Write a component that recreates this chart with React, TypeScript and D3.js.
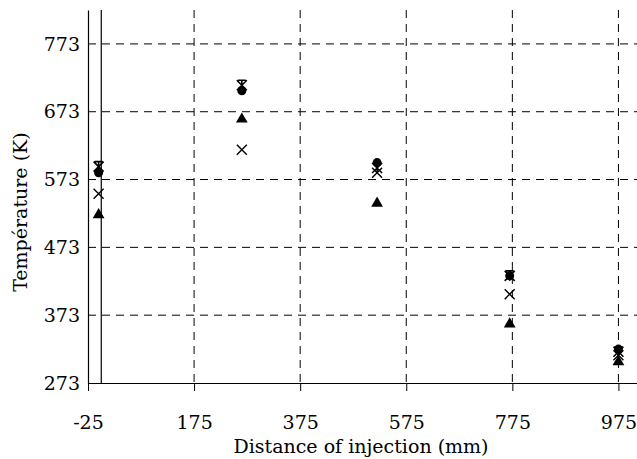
import { useEffect, useRef } from "react";
import * as d3 from "d3";

const distances = [-5, 265, 520, 770, 975];
const starSeries = [592, 712, 590, 431, 319];
const circleSeries = [583, 704, 598, 431, 323];
const crossSeries = [552, 617, 583, 404, 314];
const triangleSeries = [521, 662, 538, 360, 304];
const xTicks = [-25, 175, 375, 575, 775, 975];
const yTicks = [273, 373, 473, 573, 673, 773];

function App() {
  const ref = useRef<SVGSVGElement>(null);

  const width = 637;
  const height = 459;
  const margin = { top: 10, right: 0, bottom: 76, left: 88 };

  useEffect(() => {
    const svg = d3.select(ref.current);
    svg.selectAll("*").remove();

    const x = d3.scaleLinear().domain([-25, 1010]).range([margin.left, width - margin.right]);
    const y = d3.scaleLinear().domain([273, 823]).range([height - margin.bottom, margin.top]);
    const font = "'DejaVu Serif', 'Liberation Serif', serif";

    // dashed grid
    svg.append("g")
      .selectAll("line")
      .data(yTicks.slice(1))
      .enter()
      .append("line")
      .attr("x1", x(-25))
      .attr("x2", width)
      .attr("y1", d => y(d))
      .attr("y2", d => y(d))
      .attr("stroke", "#000")
      .attr("stroke-dasharray", "8,6");

    svg.append("g")
      .selectAll("line")
      .data(xTicks.slice(1))
      .enter()
      .append("line")
      .attr("x1", d => x(d))
      .attr("x2", d => x(d))
      .attr("y1", y(823))
      .attr("y2", y(273))
      .attr("stroke", "#000")
      .attr("stroke-dasharray", "8,6");

    // bottom axis
    const xAxis = svg.append("g")
      .attr("transform", `translate(0, ${y(273)})`)
      .call(d3.axisBottom(x).tickValues(xTicks).tickSize(8).tickSizeOuter(0).tickFormat(d => String(d)));
    xAxis.attr("font-family", null).attr("font-size", null);
    xAxis.select(".domain").attr("stroke", "#000").attr("stroke-width", 1.2);
    xAxis.selectAll("text")
      .attr("fill", "#000")
      .attr("dy", "1.85em");

    // left axis
    const yAxis = svg.append("g")
      .attr("transform", `translate(${x(-25)}, 0)`)
      .call(d3.axisLeft(y).tickValues(yTicks).tickSize(0).tickPadding(8).tickSizeOuter(0));
    yAxis.attr("font-family", null).attr("font-size", null);
    yAxis.select(".domain").attr("stroke", "#000").attr("stroke-width", 1.2);
    yAxis.selectAll("text").attr("fill", "#000");

    // zero line
    svg.append("line")
      .attr("x1", x(0))
      .attr("x2", x(0))
      .attr("y1", y(823))
      .attr("y2", y(273))
      .attr("stroke", "#000")
      .attr("stroke-width", 1.2);

    // axis titles
    svg.append("text")
      .attr("x", 361)
      .attr("y", 453)
      .attr("text-anchor", "middle")
      .text("Distance of injection (mm)");

    svg.append("text")
      .attr("transform", `translate(27, ${y(525)}) rotate(-90)`)
      .attr("text-anchor", "middle")
      .text("Température (K)");

    svg.selectAll("text")
      .style("font-family", font)
      .style("font-size", "19px");

    const pts = (vals: number[]) => vals.map((v, i) => ({ d: distances[i], v }));

    // triangles
    svg.append("g")
      .selectAll("path")
      .data(pts(triangleSeries))
      .enter()
      .append("path")
      .attr("transform", p => `translate(${x(p.d)}, ${y(p.v)})`)
      .attr("d", d3.symbol(d3.symbolTriangle, 60)())
      .attr("fill", "#000");

    // crosses
    svg.append("g")
      .selectAll("path")
      .data(pts(crossSeries))
      .enter()
      .append("path")
      .attr("transform", p => `translate(${x(p.d)}, ${y(p.v)})`)
      .attr("d", "M-5,-5L5,5M-5,5L5,-5")
      .attr("stroke", "#000")
      .attr("stroke-width", 1.4)
      .attr("fill", "none");

    // circles
    svg.append("g")
      .selectAll("circle")
      .data(pts(circleSeries))
      .enter()
      .append("circle")
      .attr("cx", p => x(p.d))
      .attr("cy", p => y(p.v))
      .attr("r", 4.5)
      .attr("fill", "#000");

    // stars
    svg.append("g")
      .selectAll("path")
      .data(pts(starSeries))
      .enter()
      .append("path")
      .attr("transform", p => `translate(${x(p.d)}, ${y(p.v)})`)
      .attr("d", "M-5,-5L5,5M-5,5L5,-5M-4,-5L4,-5M0,-5L0,5")
      .attr("stroke", "#000")
      .attr("stroke-width", 1.6)
      .attr("fill", "none");
  });

  return (
    <div id="container">
      <svg ref={ref} width={width} height={height} style={{ position: "absolute", left: 0, top: 0, background: "#fff" }}></svg>
    </div>
  );
}

export default App;
